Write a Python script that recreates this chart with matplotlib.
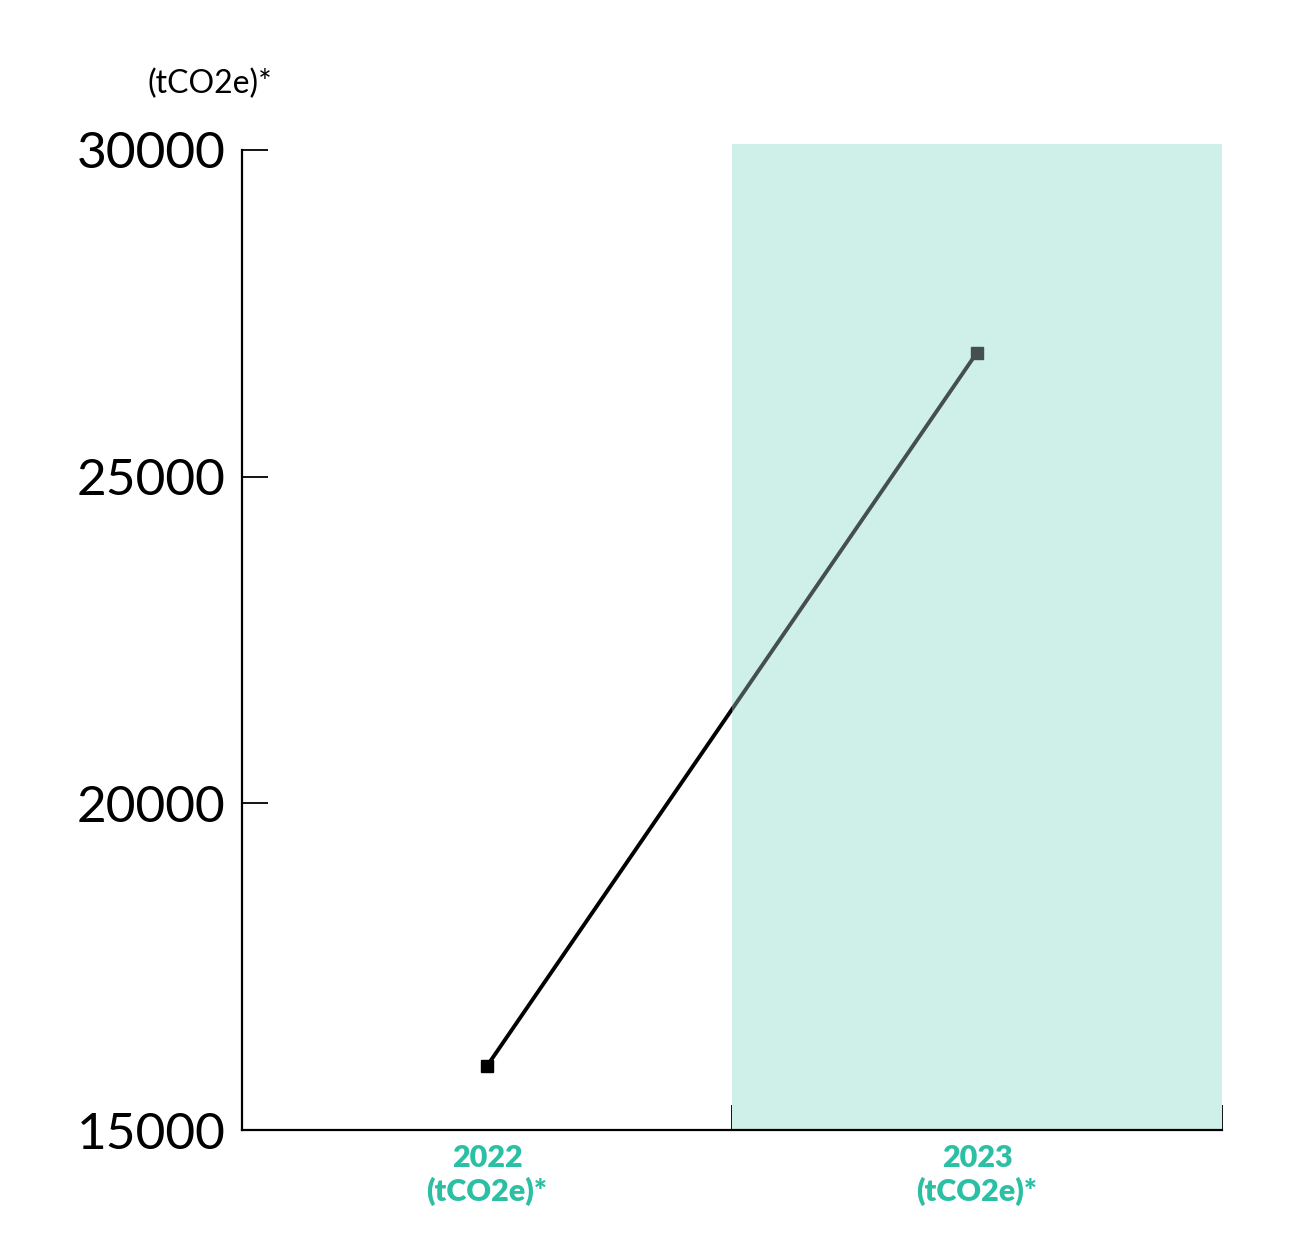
import matplotlib.pyplot as plt
from matplotlib.patches import Rectangle

years = ["2022\n(tCO2e)*", "2023\n(tCO2e)*"]
emissions = [15980, 26900]
y_ticks = [15000, 20000, 25000, 30000]

teal = "#2bbfa4"
shade = "#cff0e9"

plt.rcParams["font.family"] = ["Lato", "DejaVu Sans"]

fig = plt.figure(figsize=(13, 12.55), dpi=100)
ax = fig.add_axes([0.1862, 0.0996, 0.7538, 0.7809])

x = [i + 0.5 for i in range(len(years))]

# line under the shade (black part)
ax.plot(x, emissions, color="black", lw=2.8, zorder=2)
ax.plot(x[0], emissions[0], marker="s", ms=9, color="black", zorder=5)

# shaded current year, drawn over the line
span = Rectangle((1, 15000), 1, 15090, facecolor=shade, edgecolor="none",
                 zorder=3, clip_on=False)
ax.add_patch(span)

# part of the line inside the shade is grey
inner, = ax.plot(x, emissions, color="#464f4f", lw=2.8, zorder=4)
inner.set_clip_path(span)
ax.plot(x[1], emissions[1], marker="s", ms=9, color="#464f4f", zorder=5,
        clip_on=False)

ax.set_xlim(0, 2)
ax.set_ylim(15000, 30000)

ax.spines["top"].set_visible(False)
ax.spines["right"].set_visible(False)
for s in ["left", "bottom"]:
    ax.spines[s].set_linewidth(1.6)
    ax.spines[s].set_zorder(6)

ax.set_yticks(y_ticks)
ax.set_yticklabels([str(v) for v in y_ticks], fontsize=37, fontweight="normal")
ax.tick_params(axis="y", direction="in", length=19, width=1.3, pad=12)

ax.set_xticks([1, 2])
ax.set_xticklabels(["", ""])
ax.tick_params(axis="x", which="major", direction="in", length=18, width=1.3)
ax.set_xticks(x, minor=True)
ax.set_xticklabels(years, minor=True, fontsize=22, fontweight="heavy",
                   color=teal, linespacing=1.2)
ax.tick_params(axis="x", which="minor", length=0, pad=10)

fig.text(0.1615, 0.933, "(tCO2e)*", fontsize=23, ha="center", va="center")

fig.savefig("out.png", dpi=100)
